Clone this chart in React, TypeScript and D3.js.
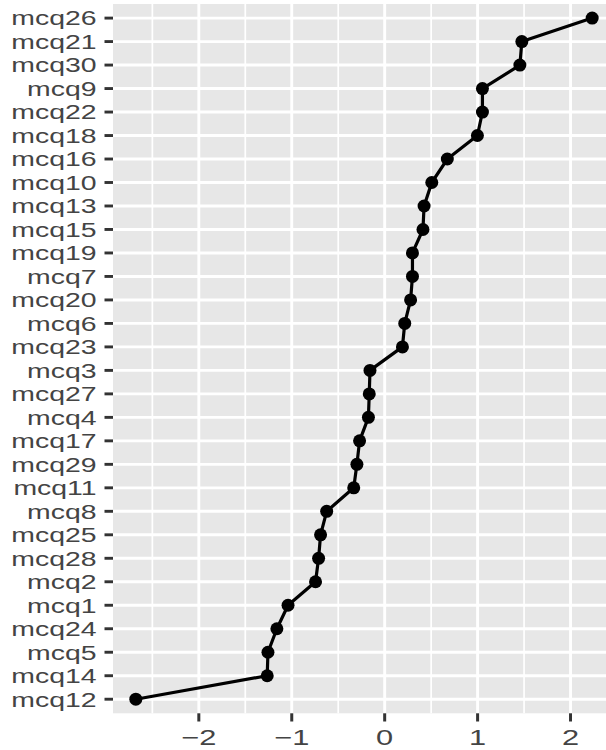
import React from "react";
import * as d3 from "d3";

// items ordered top to bottom, as plotted
const items = [
  "mcq26", "mcq21", "mcq30", "mcq9", "mcq22", "mcq18", "mcq16", "mcq10",
  "mcq13", "mcq15", "mcq19", "mcq7", "mcq20", "mcq6", "mcq23", "mcq3",
  "mcq27", "mcq4", "mcq17", "mcq29", "mcq11", "mcq8", "mcq25", "mcq28",
  "mcq2", "mcq1", "mcq24", "mcq5", "mcq14", "mcq12",
];
const scores = [
  2.233, 1.476, 1.455, 1.052, 1.052, 0.998, 0.674, 0.507,
  0.424, 0.412, 0.299, 0.299, 0.279, 0.216, 0.191, -0.158,
  -0.166, -0.175, -0.27, -0.299, -0.333, -0.624, -0.69, -0.711,
  -0.744, -1.04, -1.16, -1.256, -1.264, -2.678,
];
const xTicks = [-2, -1, 0, 1, 2];
const xMinor = [-2.5, -1.5, -0.5, 0.5, 1.5, 2.5];

const W = 606;
const H = 750;
const left = 113;
const top = 4;
const bottom = 713.3;

export default function App() {
  const lo = d3.min(scores)!;
  const hi = d3.max(scores)!;
  const pad = (hi - lo) * 0.05;
  const x = d3.scaleLinear().domain([lo - pad, hi + pad]).range([left, 615]);
  const y = d3.scalePoint<string>().domain(items).range([top, bottom]).padding(0.6);

  const data = items.map((k, i) => ({ k, v: scores[i] }));
  const line = d3
    .line<{ k: string; v: number }>()
    .x((d) => x(d.v))
    .y((d) => y(d.k)!);

  const font = "'Liberation Sans', Arial, Helvetica, sans-serif";

  return (
    <svg
      width={W}
      height={H}
      style={{ position: "absolute", left: 0, top: 0, background: "#fff" }}
    >
      <rect x={left} y={top} width={W - left} height={bottom - top} fill="#E7E7E7" />
      {xMinor.map((t) => (
        <line key={"m" + t} x1={x(t)} x2={x(t)} y1={top} y2={bottom} stroke="#fff" strokeWidth={1.7} />
      ))}
      {xTicks.map((t) => (
        <line key={"g" + t} x1={x(t)} x2={x(t)} y1={top} y2={bottom} stroke="#fff" strokeWidth={2.9} />
      ))}
      {items.map((k) => (
        <line key={"h" + k} x1={left} x2={W} y1={y(k)} y2={y(k)} stroke="#fff" strokeWidth={2.9} />
      ))}
      <path d={line(data)!} fill="none" stroke="#000" strokeWidth={3.2} strokeLinejoin="round" />
      {data.map((d) => (
        <circle key={"p" + d.k} cx={x(d.v)} cy={y(d.k)} r={6.5} fill="#000" />
      ))}
      {items.map((k) => (
        <g key={"y" + k}>
          <line x1={104.5} x2={left} y1={y(k)} y2={y(k)} stroke="#333" strokeWidth={2.9} />
          <text
            transform={`translate(96.5,${y(k)! + 7.3}) scale(1.42,1)`}
            textAnchor="end"
            fontFamily={font}
            fontSize={20}
            fill="#444"
          >
            {k}
          </text>
        </g>
      ))}
      {xTicks.map((t) => (
        <g key={"x" + t}>
          <line x1={x(t)} x2={x(t)} y1={bottom} y2={721.5} stroke="#333" strokeWidth={3} />
          <text
            transform={`translate(${x(t)},744.5) scale(1.4,1)`}
            textAnchor="middle"
            fontFamily={font}
            fontSize={22}
            fill="#444"
          >
            {t < 0 ? "\u2212" + Math.abs(t) : String(t)}
          </text>
        </g>
      ))}
    </svg>
  );
}
